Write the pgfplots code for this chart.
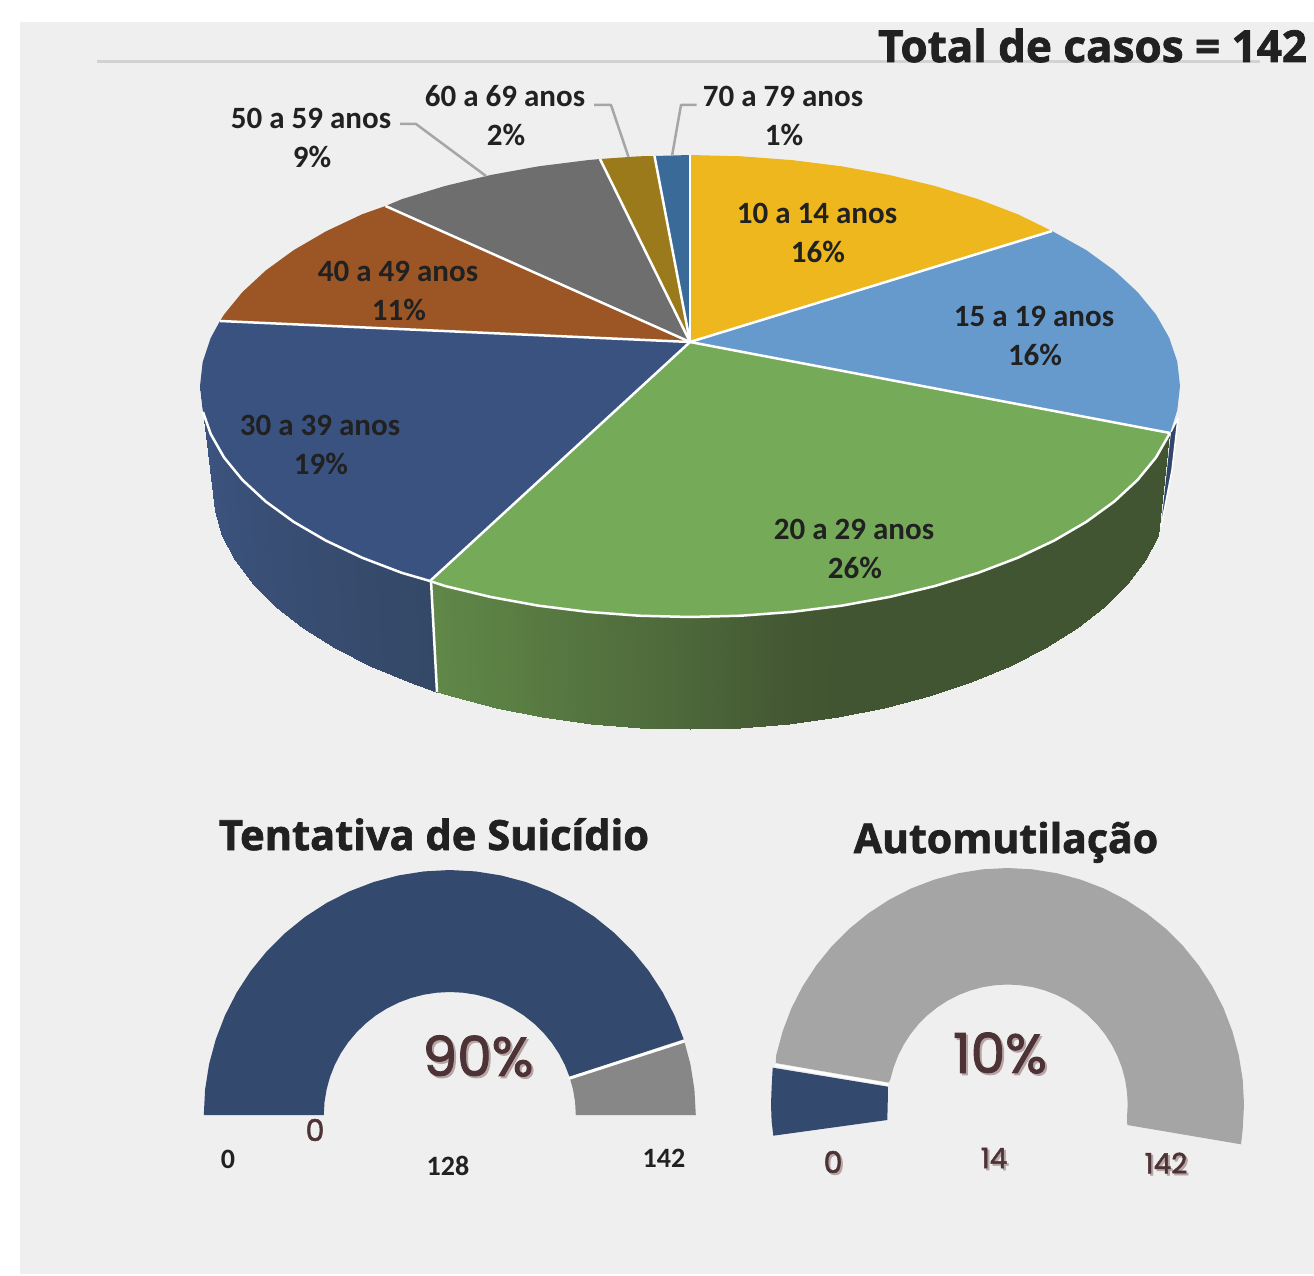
\documentclass[border=0pt]{standalone}
\usepackage{fontspec}
\usepackage{pgfplots}
\pgfplotsset{compat=1.18}
\setmainfont{Carlito}
\newfontfamily\titlefont[BoldFeatures={FakeBold=1.7}]{Open Sans}
\newfontfamily\popfont[FakeBold=1.7]{Poppins}

\definecolor{panel}{HTML}{EFEFEF}
\definecolor{rule}{HTML}{D2D2D2}
\definecolor{ink}{HTML}{212121}
\definecolor{ruby}{HTML}{4E3336}
\definecolor{shade}{HTML}{B7A5A5}
\definecolor{leader}{HTML}{A6A6A6}
\definecolor{cyellow}{HTML}{EEB71E}
\definecolor{cblue}{HTML}{6699CC}
\definecolor{cgreen}{HTML}{75AA58}
\definecolor{cnavy}{HTML}{3A5280}
\definecolor{cbrown}{HTML}{9C5525}
\definecolor{cgray}{HTML}{6E6E6E}
\definecolor{colive}{HTML}{9A7A1B}
\definecolor{cdeep}{HTML}{3A6A98}
\definecolor{gnavy}{HTML}{34496E}
\definecolor{ggray}{HTML}{878787}
\definecolor{glight}{HTML}{A5A5A5}

\pgfplotsset{
  colormap={navywall}{rgb255=(61,85,131) rgb255=(52,72,102)},
  colormap={greenwall}{rgb255=(96,136,72) rgb255=(66,85,50)},
}

\newcommand{\lab}[3]{\node[font=\fontsize{31}{31}\selectfont\bfseries, text=ink, inner sep=0pt] at (axis cs:#1,#2) {#3};}
\newcommand{\ttl}[4]{\node[font=\fontsize{#4}{#4}\selectfont\titlefont\bfseries, text=ink, inner sep=0pt, anchor=base] at (axis cs:#1,#2) {#3};}
\newcommand{\pop}[4]{%
  \node[font=\fontsize{#4}{#4}\selectfont\popfont, text=shade, inner sep=0pt] at (axis cs:#1+2,#2+2) {#3};
  \node[font=\fontsize{#4}{#4}\selectfont\popfont, text=ruby, inner sep=0pt] at (axis cs:#1,#2) {#3};}

\begin{document}
\begin{tikzpicture}
\begin{axis}[scale only axis, width=1314pt, height=1276pt, hide axis,
  xmin=0, xmax=1314, ymin=0, ymax=1276, y dir=reverse,
  point meta min=0, point meta max=1,
  every axis plot/.append style={no markers, line join=round}]

  % page and panel
  \addplot[draw=none, fill=white] coordinates {(0,0) (1314,0) (1314,1276) (0,1276)};
  \addplot[draw=none, fill=panel] coordinates {(20,22) (1314,22) (1314,1274) (20,1274)};
  \addplot[rule, line width=3pt] coordinates {(97,62) (1260,62)};

  % side walls
  \addplot[surf, shader=interp, colormap name=navywall, mesh/cols=2, point meta=explicit] table[meta=c] {
x y c
200 386 0
212 485 0
202.7 410.1 0.1
214.6 510.5 0.1
210.7 434 0.2
222.4 535.7 0.2
224 457.4 0.3
235.4 560.4 0.3
242.4 479.9 0.4
253.3 584.2 0.4
265.7 501.5 0.5
276 607 0.5
293.6 521.8 0.6
303.3 628.4 0.6
325.9 540.6 0.7
334.8 648.3 0.7
362.1 557.7 0.8
370.2 666.3 0.8
402 572.9 0.9
409 682.4 0.9
431 581 1
436 692 1
};
  \addplot[surf, shader=interp, colormap name=greenwall, mesh/cols=2, point meta=explicit] table[meta=c] {
x y c
431 581 0
437 692 0
445 586 0.04
451 696.3 0.04
490.7 597 0.15
495.6 707.9 0.15
538.6 605.7 0.27
542.3 717.1 0.27
588.1 611.9 0.4
590.6 723.7 0.4
638.8 615.7 0.52
640 727.7 0.52
690 617 0.65
690 729 0.65
741.2 615.7 0.8
740 727.7 0.8
791.9 611.9 0.95
789.4 723.7 0.95
841.4 605.7 1
837.7 717.1 1
889.3 597 1
884.4 707.9 1
935 586 1
929 696.3 1
978 572.9 1
971 682.4 1
1017.9 557.7 1
1009.8 666.3 1
1054.1 540.6 1
1045.2 648.3 1
1086.4 521.8 1
1076.7 628.4 1
1114.3 501.5 1
1104 607 1
1137.6 479.9 1
1126.7 584.2 1
1156 457.4 1
1144.6 560.4 1
1169.3 434 1
1157.6 535.7 1
};
  \addplot[draw=white, fill=cnavy!85!black, line width=1.5pt] coordinates {(1171,432) (1178,418) (1172,470) (1161,527)};
  \addplot[white, line width=2.5pt] coordinates {(431,581) (437,692)};

  % top of the pie
  \addplot[draw=none, fill=cyellow] coordinates {(690,342) (690,155) (741.2,156.3) (791.9,160.1) (841.4,166.3) (889.3,175) (935,186) (978,199.1) (1017.9,214.3) (1052,231)};
  \addplot[draw=none, fill=cblue] coordinates {(690,342) (1052,231) (1086.4,250.2) (1114.3,270.5) (1137.6,292.1) (1156,314.6) (1169.3,338) (1177.3,361.9) (1180,386) (1177.3,410.1) (1170,433)};
  \addplot[draw=none, fill=cgreen] coordinates {(690,342) (1170,433) (1156,457.4) (1137.6,479.9) (1114.3,501.5) (1086.4,521.8) (1054.1,540.6) (1017.9,557.7) (978,572.9) (935,586) (889.3,597) (841.4,605.7) (791.9,611.9) (741.2,615.7) (690,617) (638.8,615.7) (588.1,611.9) (538.6,605.7) (490.7,597) (445,586) (430,581)};
  \addplot[draw=none, fill=cnavy] coordinates {(690,342) (430,581) (402,572.9) (362.1,557.7) (325.9,540.6) (293.6,521.8) (265.7,501.5) (242.4,479.9) (224,457.4) (210.7,434) (202.7,410.1) (200,386) (202.7,361.9) (210.7,338) (220,321)};
  \addplot[draw=none, fill=cbrown] coordinates {(690,342) (220,321) (224,314.6) (242.4,292.1) (265.7,270.5) (293.6,250.2) (325.9,231.4) (362.1,214.3) (385.5,206)};
  \addplot[draw=none, fill=cgray] coordinates {(690,342) (385.5,206) (402,199.1) (445,186) (490.7,175) (538.6,166.3) (588.1,160.1) (600,159)};
  \addplot[draw=none, fill=colive] coordinates {(690,342) (600,159) (638.8,156.3) (654.5,156)};
  \addplot[draw=none, fill=cdeep] coordinates {(690,342) (654.5,156) (690,155)};

  % spokes and front rim
  \addplot[white, line width=2.5pt] coordinates {(690,342) (690,155)};
  \addplot[white, line width=2.5pt] coordinates {(690,342) (1052,231)};
  \addplot[white, line width=2.5pt] coordinates {(690,342) (1170,433)};
  \addplot[white, line width=2.5pt] coordinates {(690,342) (430,581)};
  \addplot[white, line width=2.5pt] coordinates {(690,342) (220,321)};
  \addplot[white, line width=2.5pt] coordinates {(690,342) (385.5,206)};
  \addplot[white, line width=2.5pt] coordinates {(690,342) (600,159)};
  \addplot[white, line width=2.5pt] coordinates {(690,342) (654.5,156)};
  \addplot[white, line width=2.5pt] coordinates {(1170,433) (1156,457.4) (1137.6,479.9) (1114.3,501.5) (1086.4,521.8) (1054.1,540.6) (1017.9,557.7) (978,572.9) (935,586) (889.3,597) (841.4,605.7) (791.9,611.9) (741.2,615.7) (690,617) (638.8,615.7) (588.1,611.9) (538.6,605.7) (490.7,597) (445,586) (430,581) (402,572.9) (362.1,557.7) (325.9,540.6) (293.6,521.8) (265.7,501.5) (242.4,479.9) (224,457.4) (210.7,434) (203,412)};

  % leaders
  \addplot[leader, line width=2.5pt] coordinates {(400,124) (416,124) (486,176)};
  \addplot[leader, line width=2.5pt] coordinates {(594,105) (611,105) (628.5,157)};
  \addplot[leader, line width=2.5pt] coordinates {(696.5,105) (681,105) (672,156)};

  % left gauge
  \addplot[draw=none, fill=gnavy] coordinates {(203.8,1115) (205.1,1089.4) (209.1,1064.1) (215.8,1039.3) (225,1015.4) (236.7,992.5) (250.7,971) (266.9,951.1) (285.2,933) (305.2,916.8) (326.8,902.8) (349.7,891.2) (373.7,882) (398.6,875.4) (424,871.4) (449.8,870) (475.5,871.4) (500.9,875.4) (525.8,882) (549.8,891.2) (572.8,902.8) (594.4,916.8) (614.4,933) (632.6,951.1) (648.8,971) (662.8,992.5) (674.5,1015.4) (683.7,1039.3) (569.6,1077) (564.9,1065) (558.9,1053.5) (551.7,1042.7) (543.4,1032.7) (534.1,1023.6) (523.9,1015.5) (512.8,1008.5) (501,1002.6) (488.7,998) (476,994.7) (463,992.7) (449.8,992) (436.6,992.7) (423.6,994.7) (410.9,998) (398.6,1002.6) (386.8,1008.5) (375.7,1015.5) (365.5,1023.6) (356.2,1032.7) (347.9,1042.7) (340.7,1053.5) (334.7,1065) (330,1077) (326.6,1089.4) (324.5,1102.1) (323.8,1115)};
  \addplot[draw=none, fill=ggray] coordinates {(683.7,1039.3) (690.4,1064.1) (694.4,1089.4) (695.8,1115) (575.8,1115) (575.1,1102.1) (573,1089.4) (569.6,1077)};
  \addplot[white, line width=3pt] coordinates {(684.5,1041) (568.6,1078.5)};

  % right gauge
  \addplot[draw=none, fill=gnavy] coordinates {(773.3,1135.7) (771.6,1121) (771,1104.5) (771.6,1088) (772.7,1067.7) (888,1086.7) (887.7,1104.5) (887.3,1120)};
  \addplot[draw=none, fill=glight] coordinates {(775.7,1063) (776.2,1055.3) (782.6,1031.4) (791.4,1008.3) (802.7,986.2) (816.2,965.5) (831.7,946.3) (849.3,928.7) (868.5,913.2) (889.2,899.7) (911.3,888.4) (934.4,879.6) (958.3,873.2) (982.8,869.3) (1007.5,868) (1032.2,869.3) (1056.7,873.2) (1080.6,879.6) (1103.7,888.4) (1125.8,899.7) (1146.5,913.2) (1165.7,928.7) (1183.3,946.3) (1198.8,965.5) (1212.3,986.2) (1223.6,1008.3) (1232.4,1031.4) (1238.8,1055.3) (1242.7,1079.8) (1244,1104.5) (1242.7,1129.2) (1241,1144.3) (1127.3,1125) (1127,1117) (1127.7,1104.5) (1127,1092) (1125.1,1079.6) (1121.8,1067.4) (1117.3,1055.7) (1111.6,1044.5) (1104.8,1034) (1096.9,1024.2) (1088,1015.3) (1078.2,1007.4) (1067.7,1000.6) (1056.5,994.9) (1044.8,990.4) (1032.6,987.1) (1020.2,985.2) (1007.7,984.5) (995.2,985.2) (982.8,987.1) (970.6,990.4) (958.9,994.9) (947.7,1000.6) (937.2,1007.4) (927.4,1015.3) (918.5,1024.2) (910.6,1034) (903.8,1044.5) (898.1,1055.7) (893.6,1067.4) (890.3,1079.6) (888.5,1082.5)};
  \addplot[white, line width=2.5pt] coordinates {(775,1065) (888.3,1084.5)};

  % texts
  \ttl{1092.5}{62}{Total de casos = 142}{44}
  \ttl{434}{850}{Tentativa de Suicídio}{41.6}
  \ttl{1006}{853}{Automutilação}{41}

  \lab{817}{213}{10 a 14 anos}  \lab{818}{252}{16\%}
  \lab{1034}{316}{15 a 19 anos} \lab{1035}{355}{16\%}
  \lab{854}{529}{20 a 29 anos}  \lab{855}{568}{26\%}
  \lab{320}{425}{30 a 39 anos}  \lab{321}{464}{19\%}
  \lab{398}{271}{40 a 49 anos}  \lab{399}{310}{11\%}
  \lab{311}{118}{50 a 59 anos}  \lab{312}{157}{9\%}
  \lab{505}{96}{60 a 69 anos}   \lab{506}{135}{2\%}
  \lab{783}{96}{70 a 79 anos}   \lab{784}{135}{1\%}

  \pop{478}{1056}{90\%}{55}
  \pop{1000}{1053}{10\%}{55}
  \node[font=\fontsize{30}{30}\selectfont\popfont, text=ruby, inner sep=0pt] at (axis cs:315,1130) {0};
  \node[font=\fontsize{28}{28}\selectfont\bfseries, text=ink, inner sep=0pt] at (axis cs:228,1159) {0};
  \node[font=\fontsize{28}{28}\selectfont\bfseries, text=ink, inner sep=0pt] at (axis cs:448,1165.5) {128};
  \node[font=\fontsize{28}{28}\selectfont\bfseries, text=ink, inner sep=0pt] at (axis cs:664,1158.5) {142};
  \pop{833}{1162}{0}{30}
  \pop{994}{1158}{14}{28}
  \pop{1166}{1163}{142}{28}
\end{axis}
\end{tikzpicture}
\end{document}
